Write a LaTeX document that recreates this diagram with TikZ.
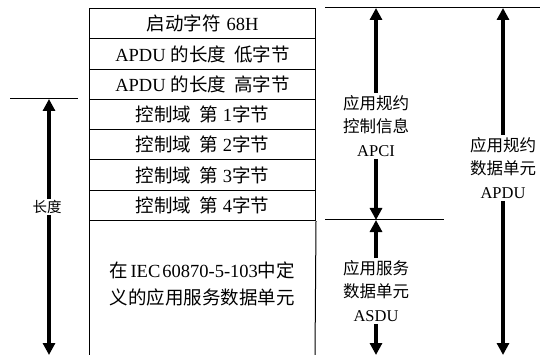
\documentclass[tikz,border=0pt]{standalone}
\usepackage{fontspec}
\setmainfont{Liberation Serif}
\newfontfamily\cjk{Noto Sans CJK SC}
\usetikzlibrary{arrows.meta}
\begin{document}
\begin{tikzpicture}[x=1pt,y=-1pt,
  row/.style={draw,line width=1pt,minimum width=226pt,minimum height=30.3pt,inner sep=0pt,anchor=north west,font=\fontsize{18.5}{20}\selectfont},
  lab/.style={align=center,font=\fontsize{16.5}{23.5}\selectfont,inner sep=2pt},
  arr/.style={line width=3.4pt,-{Triangle[width=12pt,length=12pt]}},
  rule/.style={line width=1pt}]
\useasboundingbox (0,0) rectangle (540,355);
\node[row] (r1) at (89,8)     {{\cjk 启动字符}\hspace{6pt}68H};
\node[row] (r2) at (89,38.3)  {APDU\hspace{5pt}{\cjk 的长度}\hspace{8pt}{\cjk 低字节}};
\node[row] (r3) at (89,68.6)  {APDU\hspace{5pt}{\cjk 的长度}\hspace{8pt}{\cjk 高字节}};
\node[row] (r4) at (89,98.9)  {{\cjk 控制域}\hspace{8pt}{\cjk 第}\hspace{5pt}1{\cjk 字节}};
\node[row] (r5) at (89,129.2) {{\cjk 控制域}\hspace{8pt}{\cjk 第}\hspace{5pt}2{\cjk 字节}};
\node[row] (r6) at (89,159.5) {{\cjk 控制域}\hspace{8pt}{\cjk 第}\hspace{5pt}3{\cjk 字节}};
\node[row] (r7) at (89,189.8) {{\cjk 控制域}\hspace{8pt}{\cjk 第}\hspace{5pt}4{\cjk 字节}};
\coordinate (bl) at (89,355);
\coordinate (br) at (315,355);
\draw[rule] (r7.south west) -- (bl);
\draw[rule] (r7.south east) -- (br);
\node[align=center,font=\fontsize{18.5}{27}\selectfont] (body) at (202,284)
  {{\cjk 在}\hspace{3pt}IEC\hspace{2pt}60870-5-103{\cjk 中定}\\{\cjk 义的应用服务数据单元}};
% horizontal rules
\coordinate (t1) at (325,8);   \coordinate (t2) at (540,8);
\coordinate (m1) at (325,220); \coordinate (m2) at (444,220);
\coordinate (l1) at (10,99);   \coordinate (l2) at (78,99);
\draw[rule] (t1) -- (t2);
\draw[rule] (m1) -- (m2);
\draw[rule] (l1) -- (l2);
% left length
\node[font=\cjk\fontsize{14.5}{16}\selectfont,inner sep=1pt] (len) at (47,207) {长度};
\coordinate (lt) at (49,99);  \coordinate (lb) at (49,355);
\draw[arr] (len.north -| lt) -- (lt);
\draw[arr] (len.south -| lb) -- (lb);
% APCI
\node[lab] (apci) at (376,126) {{\cjk 应用规约}\\{\cjk 控制信息}\\APCI};
\coordinate (at) at (376,8); \coordinate (am) at (376,220);
\draw[arr] (apci.north) -- (at);
\draw[arr] (apci.south) -- (am);
% ASDU
\node[lab] (asdu) at (376,291) {{\cjk 应用服务}\\{\cjk 数据单元}\\ASDU};
\coordinate (sm) at (376,220); \coordinate (sb) at (376,355);
\draw[arr] (asdu.north) -- (sm);
\draw[arr] (asdu.south) -- (sb);
% APDU
\node[lab] (apdu) at (503,168) {{\cjk 应用规约}\\{\cjk 数据单元}\\APDU};
\coordinate (pt) at (503,8); \coordinate (pb) at (503,355);
\draw[arr] (apdu.north) -- (pt);
\draw[arr] (apdu.south) -- (pb);
\end{tikzpicture}
\end{document}
